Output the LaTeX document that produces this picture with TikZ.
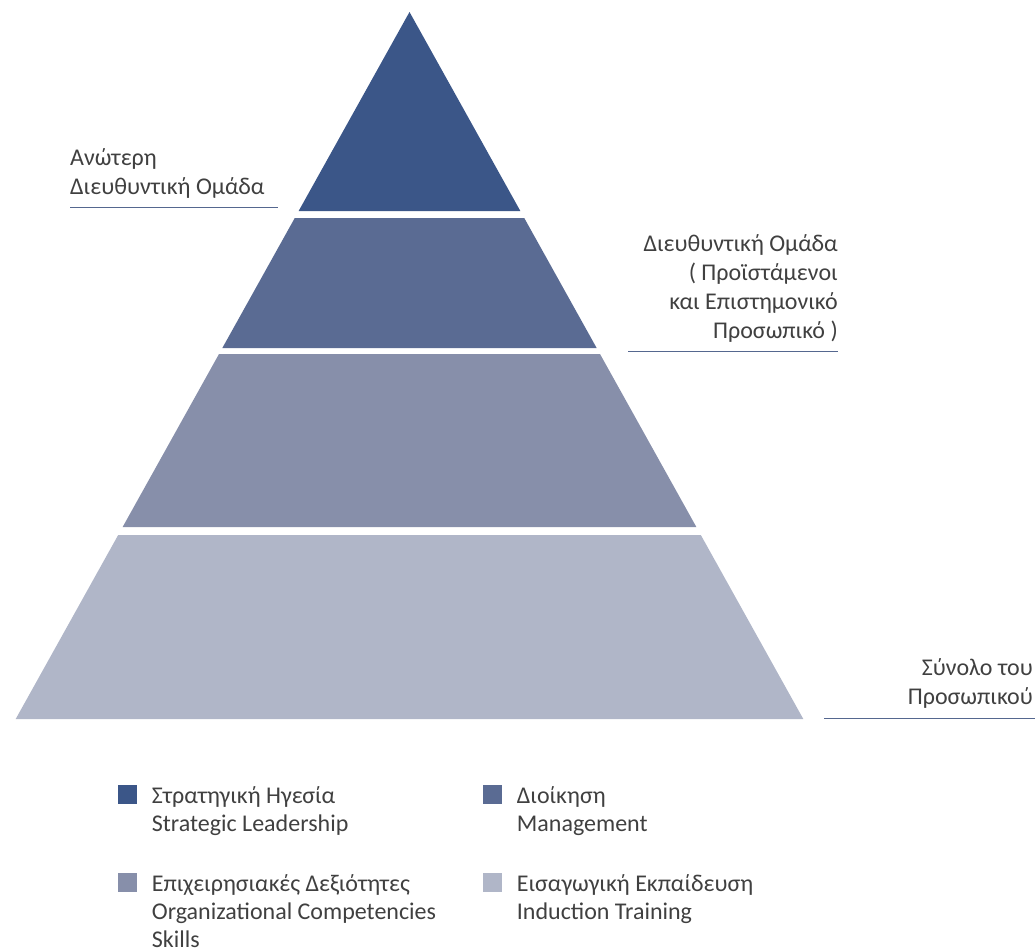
\documentclass[tikz,border=0pt]{standalone}
\usepackage{fontspec}
\setmainfont{Carlito}
\usepackage{tikz}
\usetikzlibrary{positioning,calc}
\definecolor{niveauA}{HTML}{3B5688}
\definecolor{niveauB}{HTML}{5A6B93}
\definecolor{niveauC}{HTML}{878FAA}
\definecolor{niveauD}{HTML}{B0B6C8}
\definecolor{texte}{HTML}{404040}
\definecolor{souligne}{HTML}{55678F}

\begin{document}
\begin{tikzpicture}[x=1pt,y=-1pt]
\tikzstyle{etiquette}=[text=texte,font=\fontsize{24}{29}\selectfont,inner sep=0pt]
\tikzstyle{legende}=[etiquette,font=\fontsize{24}{28}\selectfont,align=left,anchor=north west]
\tikzstyle{trait}=[draw=souligne,line width=0.8pt]
\tikzstyle{carre}=[minimum width=19pt,minimum height=19pt,inner sep=0pt]
\useasboundingbox (0,0) rectangle (1035,952);
\def\Sommet{409.5}
\def\Pente{0.557}
\def\HautA{12}
\def\BasA{211}
\def\HautB{218}
\def\BasB{348}
\def\HautC{354}
\def\BasC{527}
\def\HautD{535}
\def\BasD{719}
% pyramide
\fill[niveauA] (\Sommet,\HautA) -- ({\Sommet+\Pente*(\BasA-12)},\BasA) -- ({\Sommet-\Pente*(\BasA-12)},\BasA) -- cycle;
\fill[niveauB] ({\Sommet-\Pente*(\HautB-12)},\HautB) -- ({\Sommet+\Pente*(\HautB-12)},\HautB) -- ({\Sommet+\Pente*(\BasB-12)},\BasB) -- ({\Sommet-\Pente*(\BasB-12)},\BasB) -- cycle;
\fill[niveauC] ({\Sommet-\Pente*(\HautC-12)},\HautC) -- ({\Sommet+\Pente*(\HautC-12)},\HautC) -- ({\Sommet+\Pente*(\BasC-12)},\BasC) -- ({\Sommet-\Pente*(\BasC-12)},\BasC) -- cycle;
\fill[niveauD] ({\Sommet-\Pente*(\HautD-12)},\HautD) -- ({\Sommet+\Pente*(\HautD-12)},\HautD) -- ({\Sommet+\Pente*(\BasD-12)},\BasD) -- ({\Sommet-\Pente*(\BasD-12)},\BasD) -- cycle;
% etiquettes
\node[etiquette,align=left,anchor=south west] (Ea) at (70,199) {Ανώτερη\\Διευθυντική Ομάδα};
\coordinate (EaG) at (70,207);
\coordinate (EaD) at (278,207);
\draw[trait] (EaG)--(EaD);
\node[etiquette,align=right,anchor=south east] (Eb) at (838,343) {Διευθυντική Ομάδα\\( Προϊστάμενοι\\και Επιστημονικό\\Προσωπικό )};
\coordinate (EbG) at (628,351);
\coordinate (EbD) at (838,351);
\draw[trait] (EbG)--(EbD);
\node[etiquette,align=right,anchor=south east] (Ec) at (1033,709) {Σύνολο του\\Προσωπικού};
\coordinate (EcG) at (824,718);
\coordinate (EcD) at (1035,718);
\draw[trait] (EcG)--(EcD);
% legende
\node[carre,fill=niveauA] (La) at (127,794) {};
\node[carre,fill=niveauB] (Lb) at (492,794) {};
\node[carre,fill=niveauC] (Lc) at (127,882) {};
\node[carre,fill=niveauD] (Ld) at (492,882) {};
\node[legende] (Ta) at ([xshift=15pt,yshift=-2pt]La.north east) {Στρατηγική Ηγεσία\\Strategic Leadership};
\node[legende] (Tb) at ([xshift=15pt,yshift=-2pt]Lb.north east) {Διοίκηση\\Management};
\node[legende] (Tc) at ([xshift=15pt,yshift=-2pt]Lc.north east) {Επιχειρησιακές Δεξιότητες\\Organizational Competencies\\Skills};
\node[legende] (Td) at ([xshift=15pt,yshift=-2pt]Ld.north east) {Εισαγωγική Εκπαίδευση\\Induction Training};
\end{tikzpicture}
\end{document}
